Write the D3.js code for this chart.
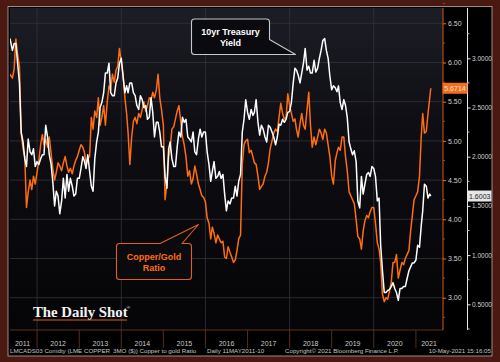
<!DOCTYPE html>
<html>
<head>
<meta charset="utf-8">
<script src="https://cdn.jsdelivr.net/npm/d3@7"></script>
<style>
  body { margin: 0; background: #4a1911; }
  svg { display: block; }
</style>
</head>
<body>
<svg id="chart" width="500" height="362"></svg>
<script>
// readings on the 1st and 16th of each month, 11 May 2011 .. 10 May 2021
var copperGold = [
  5.85, 5.80, 5.92, 6.30, 6.10, 5.95, 5.10, 4.90, 4.80, 4.15, 4.35, 4.50, 4.38, 4.55, 4.45,
  4.60, 4.75, 4.95, 5.08, 4.95, 5.02, 4.92, 5.05, 4.85, 4.65, 4.50, 4.60,
  4.72, 4.68, 4.62, 4.72, 4.80, 4.68, 4.60, 4.65, 4.58, 4.68, 4.75, 4.80,
  4.88, 4.95, 4.92, 4.85, 4.70, 4.78, 4.80, 5.30, 5.15, 5.38, 5.30, 5.55,
  5.20, 5.30, 5.45, 5.20, 5.50, 5.70, 5.65, 5.85, 5.75, 5.90, 5.95, 6.18,
  6.00, 5.85, 5.55, 5.35, 5.10, 4.70, 5.05, 5.25, 5.30, 5.22, 5.35, 5.30,
  5.40, 5.50, 5.38, 5.45, 5.55, 5.52, 5.62, 5.55, 5.65, 5.85, 5.55, 5.40,
  5.20, 4.25, 4.45, 4.80, 4.90, 5.15, 5.18, 5.28, 5.38, 5.45, 5.25, 5.05,
  4.95, 4.80, 4.55, 4.62, 4.45, 4.52, 4.68, 4.58, 4.45, 4.38, 4.30, 4.28,
  4.22, 4.02, 3.95, 3.75, 3.90, 3.82, 3.70, 3.80, 3.75, 3.70, 3.72, 3.52,
  3.50, 3.65, 3.58, 3.52, 3.45, 3.48, 3.60, 3.75, 3.80, 4.70, 4.95, 5.00,
  5.02, 4.85, 4.88, 4.80, 4.72, 4.70, 4.55, 4.38, 4.42, 4.45, 4.55, 4.60,
  4.72, 4.90, 5.00, 5.10, 5.15, 5.12, 5.30, 5.48, 5.35, 5.28, 5.30, 5.60,
  5.45, 5.35, 5.25, 5.28, 5.15, 5.05, 5.22, 5.35, 5.20, 5.15, 5.40, 5.62,
  5.20, 4.92, 5.05, 4.95, 5.05, 5.15, 5.10, 5.02, 5.15, 5.10, 4.95, 4.80,
  4.55, 4.45, 4.75, 4.85, 4.92, 4.88, 5.05, 5.05, 4.80, 4.62, 4.35, 4.30,
  4.25, 4.20, 4.00, 3.78, 3.75, 3.62, 3.85, 3.98, 4.05, 4.02, 4.10, 4.15,
  4.15, 3.95, 3.70, 3.62, 3.45, 3.05, 2.95, 3.00, 2.98, 3.08, 3.20, 3.45,
  3.45, 3.55, 3.25, 3.35, 3.45, 3.42, 3.50, 3.55, 3.60, 3.85, 4.05, 4.25,
  4.30, 4.35, 4.55, 5.05, 5.35, 5.10, 5.12, 5.35, 5.55, 5.6714
];

var treasury10y = [
  3.20, 3.08, 3.15, 3.15, 2.95, 2.75, 2.25, 2.15, 1.98, 1.90, 2.18, 2.05, 2.02, 2.08, 1.90,
  1.95, 1.92, 1.98, 2.02, 2.02, 2.32, 2.20, 2.02, 1.93, 1.75, 1.50, 1.65,
  1.60, 1.42, 1.55, 1.78, 1.58, 1.82, 1.65, 1.78, 1.70, 1.60, 1.62, 1.78,
  1.78, 1.88, 2.00, 1.95, 1.88, 2.02, 1.85, 1.70, 1.65, 1.98, 2.15, 2.25,
  2.50, 2.55, 2.65, 2.85, 2.85, 2.95, 2.65, 2.62, 2.62, 2.75, 2.80, 2.95,
  3.00, 2.82, 2.65, 2.72, 2.65, 2.75, 2.75, 2.65, 2.62, 2.52, 2.48, 2.62,
  2.58, 2.50, 2.52, 2.38, 2.40, 2.60, 2.45, 2.20, 2.35, 2.35, 2.25, 2.10,
  2.10, 1.80, 1.68, 2.08, 2.15, 1.98, 1.90, 1.90, 2.10, 2.25, 2.20, 2.40,
  2.35, 2.38, 2.20, 2.18, 2.15, 2.25, 2.05, 2.02, 2.18, 2.28, 2.20, 2.25,
  2.25, 2.05, 1.92, 1.75, 1.85, 1.95, 1.78, 1.80, 1.85, 1.78, 1.82, 1.62,
  1.45, 1.55, 1.52, 1.58, 1.58, 1.70, 1.60, 1.75, 1.82, 2.25, 2.38, 2.58,
  2.45, 2.38, 2.48, 2.42, 2.45, 2.58, 2.35, 2.22, 2.32, 2.28, 2.20, 2.15,
  2.32, 2.30, 2.25, 2.20, 2.12, 2.20, 2.33, 2.32, 2.38, 2.35, 2.38, 2.45,
  2.46, 2.55, 2.75, 2.90, 2.88, 2.83, 2.75, 2.85, 2.95, 3.10, 2.88, 2.92,
  2.85, 2.85, 2.98, 2.86, 2.90, 3.00, 3.08, 3.18, 3.20, 3.08, 3.00, 2.82,
  2.68, 2.72, 2.70, 2.66, 2.72, 2.55, 2.48, 2.58, 2.52, 2.40, 2.15, 2.08,
  2.02, 2.06, 1.95, 1.55, 1.48, 1.80, 1.62, 1.72, 1.82, 1.84, 1.80, 1.90,
  1.88, 1.80, 1.55, 1.58, 1.10, 0.85, 0.62, 0.62, 0.64, 0.65, 0.68, 0.72,
  0.66, 0.62, 0.54, 0.66, 0.66, 0.68, 0.68, 0.76, 0.84, 0.88, 0.92, 0.92,
  0.95, 1.10, 1.08, 1.30, 1.45, 1.72, 1.70, 1.58, 1.62, 1.6003
];

var years = [2011, 2012, 2013, 2014, 2015, 2016, 2017, 2018, 2019, 2020, 2021];
var ratioTicks = [3.00, 3.50, 4.00, 4.50, 5.00, 5.50, 6.00, 6.50];
var yieldTicks = [0.5, 1.0, 1.5, 2.0, 2.5, 3.0];

var ORANGE = "#ff6d12";
var FONT = "Liberation Sans, Arial, sans-serif";

// i=0 -> 16 May 2011, odd -> 1st of next month, even -> 16th
var dates = copperGold.map(function (v, i) {
    var m = Math.floor((i + 1) / 2);
    return new Date(2011, 4 + m, i % 2 === 1 ? 1 : 16);
});
dates[0] = new Date(2011, 4, 11);
dates[dates.length - 1] = new Date(2021, 4, 10);

var plot = { left: 10, right: 443, top: 8, bottom: 330 };

var svg = d3.select("#chart");

var x = d3.scaleTime()
    .domain([new Date(2011, 4, 11), new Date(2021, 7, 24)])
    .range([plot.left, plot.right]);
var yRatio = d3.scaleLinear().domain([3, 6.5]).range([297.7, 23.3]);
var yYield = d3.scaleLinear().domain([0.5, 3]).range([304.3, 58.3]);

var defs = svg.append("defs");
var grad = defs.append("linearGradient").attr("id", "bg").attr("x1", 0).attr("x2", 0).attr("y1", 0).attr("y2", 1);
grad.append("stop").attr("offset", "0%").attr("stop-color", "#1d1d25");
grad.append("stop").attr("offset", "35%").attr("stop-color", "#0e0e14");
grad.append("stop").attr("offset", "100%").attr("stop-color", "#050507");
defs.append("clipPath").attr("id", "clip").append("rect")
    .attr("x", plot.left).attr("y", plot.top)
    .attr("width", plot.right - plot.left).attr("height", plot.bottom - plot.top);

// outer frame
svg.append("rect").attr("width", 500).attr("height", 362).attr("fill", "#4a1911");
svg.append("rect").attr("x", 8).attr("y", 6.5).attr("width", 484).attr("height", 349.5)
    .attr("fill", "#000").attr("stroke", "#b9a9a6").attr("stroke-width", 0.8);
svg.append("rect").attr("x", plot.left).attr("y", plot.top)
    .attr("width", plot.right - plot.left).attr("height", plot.bottom - plot.top)
    .attr("fill", "url(#bg)");

// grid
var grid = svg.append("g").attr("stroke", "#34343b").attr("stroke-width", 0.8);
ratioTicks.forEach(function (t) {
    grid.append("line").attr("x1", plot.left).attr("x2", plot.right)
        .attr("y1", yRatio(t)).attr("y2", yRatio(t));
});
[2012, 2014, 2016, 2018, 2020].forEach(function (yr) {
    var gx = x(new Date(yr, 0, 1));
    grid.append("line").attr("x1", gx).attr("x2", gx).attr("y1", plot.top).attr("y2", plot.bottom);
});

// series
var lineRatio = d3.line().x(function (d, i) { return x(dates[i]); }).y(function (d) { return yRatio(d); });
var lineYield = d3.line().x(function (d, i) { return x(dates[i]); }).y(function (d) { return yYield(d); });

var series = svg.append("g").attr("clip-path", "url(#clip)");
series.append("path").datum(copperGold).attr("d", lineRatio)
    .attr("fill", "none").attr("stroke", ORANGE).attr("stroke-width", 1.5).attr("stroke-linejoin", "round");
series.append("path").datum(treasury10y).attr("d", lineYield)
    .attr("fill", "none").attr("stroke", "#fff").attr("stroke-width", 1.5).attr("stroke-linejoin", "round");

// x axis: year separators and centred labels
svg.append("line").attr("x1", plot.left).attr("x2", plot.right).attr("y1", plot.bottom).attr("y2", plot.bottom)
    .attr("stroke", "#7a3a1c").attr("stroke-width", 0.8);
var xAxis = svg.append("g");
years.forEach(function (yr) {
    var x0 = Math.max(plot.left, x(new Date(yr, 0, 1)));
    var x1 = Math.min(plot.right, x(new Date(yr + 1, 0, 1)));
    if (yr > 2011) {
        xAxis.append("line").attr("x1", x0).attr("x2", x0).attr("y1", plot.bottom).attr("y2", 348)
            .attr("stroke", "#6e3a22").attr("stroke-width", 0.8);
    }
    var cx = yr === 2011 ? 22.5 : (yr === 2021 ? 429 : (x0 + x1) / 2);
    xAxis.append("text").attr("x", cx).attr("y", 345.5).attr("text-anchor", "middle")
        .attr("fill", "#c9c9c9").attr("font-family", FONT)
        .attr("font-size", 7).text(yr);
});

// right axis 1: copper/gold ratio
var axR = svg.append("g").attr("transform", "translate(443,0)")
    .call(d3.axisRight(yRatio).tickValues(ratioTicks).tickSize(3).tickPadding(2).tickFormat(d3.format(".2f")));
axR.select(".domain").attr("stroke", "#d4561a").attr("d", "M0," + plot.top + "V" + plot.bottom);
axR.selectAll(".tick line").attr("stroke", ORANGE);
axR.selectAll(".tick text").attr("fill", "#d0d0d0").attr("font-size", 7).attr("font-family", FONT);
var minorR = d3.range(2.75, 6.76, 0.5);
axR.selectAll(".minor").data(minorR).enter().append("line")
    .attr("x1", 0).attr("x2", 2).attr("y1", function (d) { return yRatio(d); }).attr("y2", function (d) { return yRatio(d); })
    .attr("stroke", "#a8461a");

// right axis 2: 10yr yield
var axY = svg.append("g").attr("transform", "translate(467.5,0)")
    .call(d3.axisRight(yYield).tickValues(yieldTicks).tickSize(3).tickPadding(1.5).tickFormat(d3.format(".4f")));
axY.select(".domain").attr("stroke", "#e8e8e8").attr("d", "M0," + plot.top + "V" + plot.bottom);
axY.selectAll(".tick line").attr("stroke", "#e8e8e8");
axY.selectAll(".tick text").attr("fill", "#d0d0d0").attr("font-size", 6.5).attr("font-family", FONT);
var minorY = d3.range(0.25, 3.51, 0.5);
axY.selectAll(".minor").data(minorY).enter().append("line")
    .attr("x1", 0).attr("x2", 2).attr("y1", function (d) { return yYield(d); }).attr("y2", function (d) { return yYield(d); })
    .attr("stroke", "#bbb");

// last value tags
function lastTag(xPos, w, yPos, fill, color, txt) {
    svg.append("rect").attr("x", xPos).attr("y", yPos - 5.5).attr("width", w).attr("height", 11).attr("fill", fill);
    svg.append("text").attr("x", xPos + w / 2).attr("y", yPos + 2.5).attr("text-anchor", "middle")
        .attr("fill", color).attr("font-size", 7).attr("font-family", FONT).text(txt);
}
lastTag(442.5, 25, yRatio(copperGold[copperGold.length - 1]), "#f26d21", "#ffe3c8", d3.format(".4f")(copperGold[copperGold.length - 1]));
lastTag(468, 23.5, yYield(treasury10y[treasury10y.length - 1]), "#e6e6e6", "#222", d3.format(".4f")(treasury10y[treasury10y.length - 1]));

// callouts
function callout(path, stroke, color, lines, cx, y0) {
    svg.append("path").attr("d", path).attr("fill", "#0b0b0f").attr("stroke", stroke).attr("stroke-width", 1.1)
        .attr("stroke-linejoin", "round");
    lines.forEach(function (t, i) {
        svg.append("text").attr("x", cx).attr("y", y0 + i * 11).attr("text-anchor", "middle")
            .attr("fill", color).attr("font-weight", "bold").attr("font-size", 9)
            .attr("font-family", FONT).text(t);
    });
}
callout("M194.5,19 H266.5 Q269.5,19 269.5,22 V39.5 L295.5,54.5 H194.5 Q191.5,54.5 191.5,51.5 V22 Q191.5,19 194.5,19 Z",
    "#c8c8c8", "#fff", ["10yr Treasury", "Yield"], 230.5, 35);
callout("M119.5,243.5 H160 L198.5,224.5 L182,243.5 H188.5 Q191.5,243.5 191.5,246.5 V276.5 Q191.5,279.5 188.5,279.5 H119.5 Q116.5,279.5 116.5,276.5 V246.5 Q116.5,243.5 119.5,243.5 Z",
    "#e0601a", ORANGE, ["Copper/Gold", "Ratio"], 154, 259.5);

// logo
svg.append("text").attr("x", 33).attr("y", 316.5).attr("fill", "#f2f2f2")
    .attr("font-family", "Liberation Serif, DejaVu Serif, serif").attr("font-size", 14.8).attr("font-weight", "bold")
    .text("The Daily Shot");
svg.append("text").attr("x", 126.5).attr("y", 309).attr("fill", "#f2f2f2")
    .attr("font-family", "Liberation Serif, serif").attr("font-size", 5).text("®");
svg.append("line").attr("x1", 33).attr("x2", 127).attr("y1", 320).attr("y2", 320)
    .attr("stroke", "#e0601a").attr("stroke-width", 1);

// footer
var foot = svg.append("g").attr("fill", "#c4c4c4").attr("font-size", 6.2).attr("font-family", FONT);
foot.append("text").attr("x", 10).attr("y", 353).text("LMCADS03 Comdty (LME COPPER");
foot.append("text").attr("x", 113).attr("y", 353).text("3MO ($)) Copper to gold Ratio");
foot.append("text").attr("x", 207).attr("y", 353).text("Daily 11MAY2011-10");
foot.append("text").attr("x", 285).attr("y", 353).text("Copyright\u00a9 2021 Bloomberg Finance L.P.");
foot.append("text").attr("x", 491).attr("y", 353).attr("text-anchor", "end").text("10-May-2021 15:16:05");
</script>
</body>
</html>
